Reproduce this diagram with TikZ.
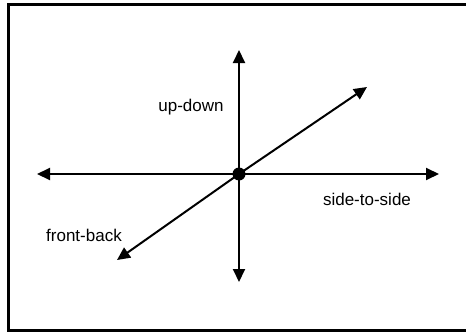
\documentclass[tikz,border=0pt]{standalone}
\usepackage{fontspec}
\setmainfont{Liberation Sans}
\usetikzlibrary{arrows.meta}
\tikzset{
  axis/.style={line width=2pt, -{Triangle[length=13pt,width=12pt]}},
  lbl/.style={font=\fontsize{17}{20}\selectfont, anchor=base, inner sep=0pt},
}
\begin{document}
\begin{tikzpicture}[x=1pt,y=-1pt]
\useasboundingbox (0,0) rectangle (466,332);
\clip (0,0) rectangle (466,332);
\draw[line width=3pt] (8,4) rectangle (520,330.5);
\coordinate (c) at (239,174);
\coordinate (left) at (37,174);
\coordinate (right) at (439,174);
\coordinate (top) at (239,50);
\coordinate (bottom) at (239,282);
\coordinate (fb) at (117,260);
\coordinate (ur) at (367,87);
\draw[axis] (c) -- (left);
\draw[axis] (c) -- (right);
\draw[axis] (c) -- (top);
\draw[axis] (c) -- (bottom);
\draw[axis] (c) -- (fb);
\draw[axis] (c) -- (ur);
\fill (c) circle (6.5);
\node[lbl] (ud) at (191,111) {up-down};
\node[lbl] (ss) at (367,205) {side-to-side};
\node[lbl] (fbl) at (84,241) {front-back};
\end{tikzpicture}
\end{document}
